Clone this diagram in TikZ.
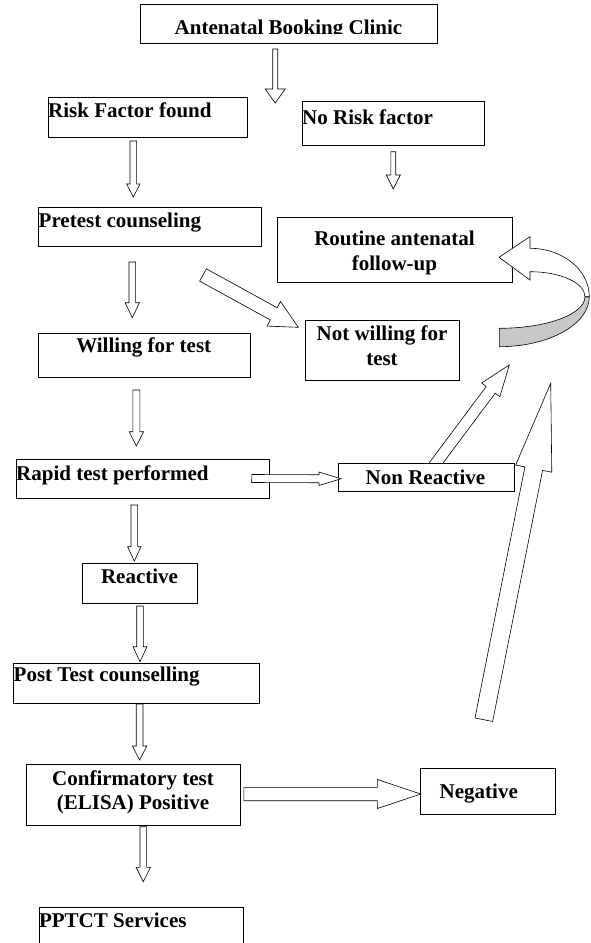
\documentclass[tikz,border=0pt]{standalone}
\usepackage{fontspec}
\setmainfont{Liberation Serif}
\usetikzlibrary{calc}
\newcommand{\blockarrow}[5]{%
  \coordinate (bh) at ($(#2)!#5pt!(#1)$);
  \draw[barrow] ($(#1)!#3pt!90:(#2)$) -- ($(bh)!#3pt!-90:(#1)$) -- ($(bh)!#4pt!-90:(#1)$) -- (#2)
    -- ($(bh)!#4pt!90:(#1)$) -- ($(bh)!#3pt!90:(#1)$) -- ($(#1)!#3pt!-90:(#2)$) -- cycle;
}
\begin{document}
\begin{tikzpicture}[x=1pt,y=-1pt,
  box/.style={draw=black, line width=0.9pt, rectangle, inner sep=0pt, anchor=north west},
  lbl/.style={font=\fontsize{21}{25}\selectfont\bfseries, inner sep=0pt},
  barrow/.style={draw=black, line width=0.6pt, fill=white, line join=miter},
]
\useasboundingbox (0,0) rectangle (590,943);

% boxes
\node[box, minimum width=297pt, minimum height=39pt] (antenatal) at (140,4) {};
\node[box, minimum width=199pt, minimum height=40pt] (riskfound) at (48,97) {};
\node[box, minimum width=182pt, minimum height=44pt] (norisk) at (302,101) {};
\node[box, minimum width=235pt, minimum height=65pt] (routine) at (277,217) {};
\node[box, minimum width=223pt, minimum height=39pt] (pretest) at (38,207) {};
\node[box, minimum width=154pt, minimum height=60pt] (notwilling) at (305,320) {};
\node[box, minimum width=212.5pt, minimum height=44pt] (willing) at (37.5,333) {};
\node[box, minimum width=253pt, minimum height=39pt] (rapid) at (16,459) {};
\node[box, minimum width=176.5pt, minimum height=28pt] (nonreactive) at (337.5,463) {};
\node[box, minimum width=115pt, minimum height=40pt] (reactive) at (82,563) {};
\node[box, minimum width=245.2pt, minimum height=40pt] (posttest) at (13.3,662.7) {};
\node[box, minimum width=213.7pt, minimum height=60.7pt] (confirm) at (26.3,764.3) {};
\node[box, minimum width=135pt, minimum height=45.7pt] (negative) at (420,768.3) {};
\node[box, minimum width=204pt, minimum height=50pt] (pptct) at (38.8,906.7) {};

% texts
\begin{scope}
  \clip (antenatal.north west) rectangle (437,33.3);
  \node[lbl, anchor=base] (tantenatal) at (288.5,34.6) {Antenatal Booking Clinic};
\end{scope}
\node[lbl, anchor=base west] (triskfound) at (48,117.5) {Risk Factor found};
\node[lbl, anchor=base west] (tnorisk) at (302,124) {No Risk factor};
\node[lbl, anchor=base, align=center] (troutine) at (394.5,270.5) {Routine antenatal\\follow-up};
\node[lbl, anchor=base west] (tpretest) at (38.5,227) {Pretest counseling};
\node[lbl, anchor=base, align=center] (tnotwilling) at (382,365.5) {Not willing for\\test};
\node[lbl, anchor=base] (twilling) at (143.75,352) {Willing for test};
\node[lbl, anchor=base west] (trapid) at (16,480) {Rapid test performed};
\node[lbl, anchor=base] (tnonreactive) at (425.5,484) {Non Reactive};
\node[lbl, anchor=base] (treactive) at (139.5,583.5) {Reactive};
\node[lbl, anchor=base west] (tposttest) at (13.5,681.5) {Post Test counselling};
\node[lbl, anchor=base, align=center, font=\fontsize{21}{24}\selectfont\bfseries] (tconfirm) at (133,809.5) {Confirmatory test\\(ELISA) Positive};
\node[lbl, anchor=base west] (tnegative) at (439.5,798) {Negative};
\node[lbl, anchor=base west] (tpptct) at (38.8,927) {PPTCT Services};

% arrow end points
\coordinate (a1s) at (275.2,49);   \coordinate (a1e) at (275.2,103);
\coordinate (a2s) at (133.3,141);  \coordinate (a2e) at (133.3,197);
\coordinate (a3s) at (393.3,151.7);\coordinate (a3e) at (393.3,189);
\coordinate (a4s) at (132.3,262);  \coordinate (a4e) at (132.3,317.7);
\coordinate (a5s) at (203,275);    \coordinate (a5e) at (298.3,327.3);
\coordinate (a6s) at (136.4,390);  \coordinate (a6e) at (136.4,446);
\coordinate (a7s) at (251.8,478.5);\coordinate (a7e) at (341,478.8);
\coordinate (a8s) at (432.7,467.5);\coordinate (a8e) at (509.3,365);
\coordinate (a13s) at (134.3,505); \coordinate (a13e) at (134.3,561);
\coordinate (a14s) at (140,606);   \coordinate (a14e) at (140,661.7);
\coordinate (a9s) at (139.6,704);  \coordinate (a9e) at (139.6,760);
\coordinate (a10s) at (243.8,794); \coordinate (a10e) at (420.7,794);
\coordinate (a11s) at (143.3,826.7);\coordinate (a11e) at (143.3,881.7);
\coordinate (a12s) at (483.8,719.7);\coordinate (a12e) at (550.7,383.3);

\blockarrow{a1s}{a1e}{2.5}{10}{14}
\blockarrow{a2s}{a2e}{3.3}{6.7}{13}
\blockarrow{a3s}{a3e}{2.4}{7}{14}
\blockarrow{a4s}{a4e}{3.3}{7.2}{15}
\blockarrow{a5s}{a5e}{7}{14}{28}
\blockarrow{a6s}{a6e}{3.5}{7.2}{14.3}
\blockarrow{a7s}{a7e}{4}{6.7}{22}
\begin{scope}
  \clip (0,0) rectangle (590,462.7);
  \blockarrow{a8s}{a8e}{5.6}{11.4}{31}
\end{scope}
\blockarrow{a13s}{a13e}{3.3}{6.7}{14.3}
\blockarrow{a14s}{a14e}{3.3}{7}{15}
\blockarrow{a9s}{a9e}{3.4}{7.2}{14}
\blockarrow{a10s}{a10e}{6.7}{14.5}{43.3}
\blockarrow{a11s}{a11e}{3.3}{7.2}{14.4}
\blockarrow{a12s}{a12e}{9}{18.4}{87}

% curved return arrow
\draw[barrow, fill={rgb,255:red,200;green,200;blue,200}] (589.3,296.7) .. controls (589.3,324.3) and (549,346.7) .. (499.3,346.7)
  -- (499.3,328.3) .. controls (546.6,328.3) and (585,314.2) .. (585,296.7) -- cycle;
\draw[barrow] (530,248.3) .. controls (562.8,248.3) and (589.3,270) .. (589.3,296.7)
  -- (585,296.7) .. controls (585,282.9) and (560.4,271.7) .. (530,271.7)
  -- (530,280) -- (499,257.3) -- (530,236.7) -- cycle;
\end{tikzpicture}
\end{document}
